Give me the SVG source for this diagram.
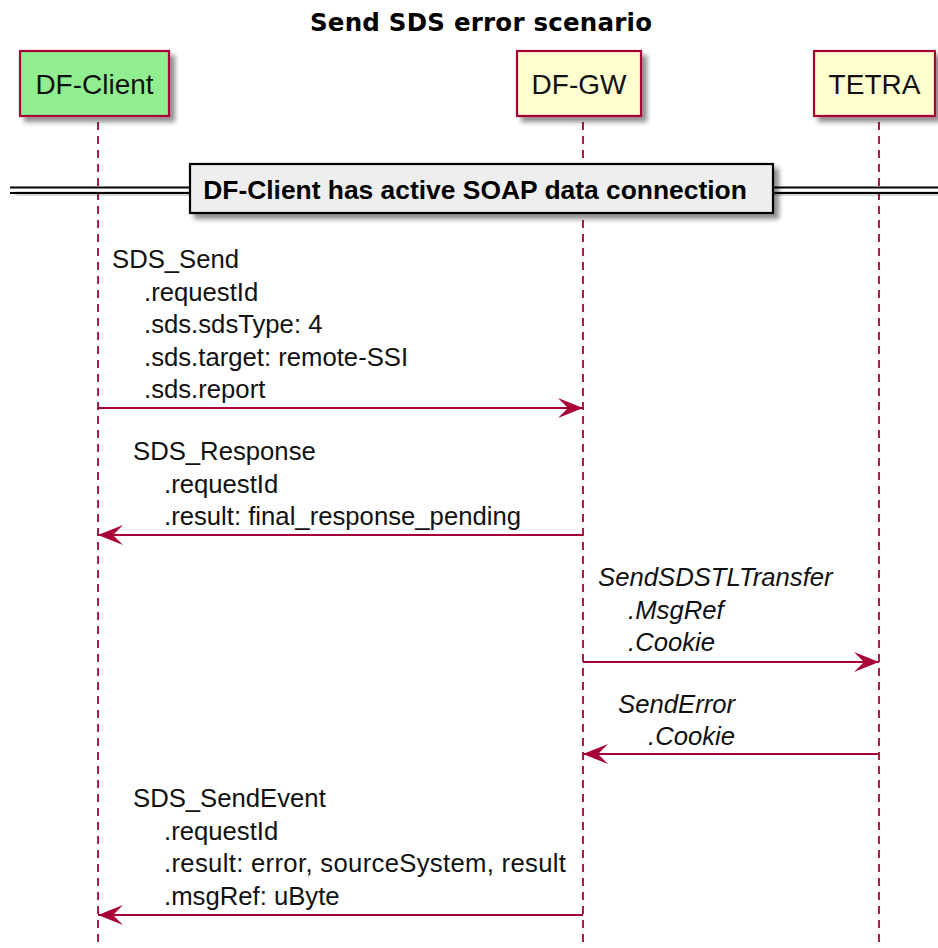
<svg xmlns="http://www.w3.org/2000/svg" width="938" height="948" viewBox="0 0 938 948">
<defs>
<filter id="sh" x="-20%" y="-20%" width="150%" height="160%">
<feGaussianBlur in="SourceAlpha" stdDeviation="2.5"/>
<feOffset dx="5" dy="5" result="b"/>
<feComponentTransfer><feFuncA type="linear" slope="0.45"/></feComponentTransfer>
<feMerge><feMergeNode/><feMergeNode in="SourceGraphic"/></feMerge>
</filter>
<marker id="ah" viewBox="0 0 25 20" refX="25" refY="10" markerWidth="25" markerHeight="20" markerUnits="userSpaceOnUse" orient="auto">
<path d="M0,0 L25,10 L0,20 L10,10 Z" fill="#A80036"/>
</marker>
</defs>
<style>
.part rect{stroke:#A80036;stroke-width:2.2}
.pt{font-family:"Liberation Sans",Arial,sans-serif;font-size:28px;fill:#111;text-anchor:middle}
.life{stroke:#A80036;stroke-width:1.8;stroke-dasharray:8,6;fill:none}
.msg{stroke:#A80036;stroke-width:2;fill:none;marker-end:url(#ah)}
.t{font-family:"Liberation Sans",Arial,sans-serif;font-size:25.7px;fill:#111}
.i{font-style:italic}
</style>
<rect width="938" height="948" fill="#fff"/>
<text x="481" y="31" font-family="'DejaVu Sans',sans-serif" font-weight="bold" font-size="24.5" text-anchor="middle" textLength="342" lengthAdjust="spacing" fill="#000">Send SDS error scenario</text>

<g id="lifelines">
<line class="life" x1="98" y1="122" x2="98" y2="948"/>
<line class="life" x1="583" y1="122" x2="583" y2="948"/>
<line class="life" x1="879" y1="122" x2="879" y2="948"/>
</g>

<g id="DF-Client" class="part">
<rect x="20" y="51" width="149" height="65" fill="#90EE90" filter="url(#sh)"/>
<text class="pt" x="94.5" y="94">DF-Client</text>
</g>
<g id="DF-GW" class="part">
<rect x="517" y="51" width="124" height="65" fill="#FEFECE" filter="url(#sh)"/>
<text class="pt" x="579" y="94">DF-GW</text>
</g>
<g id="TETRA" class="part">
<rect x="814" y="51" width="121" height="65" fill="#FEFECE" filter="url(#sh)"/>
<text class="pt" x="874.5" y="94">TETRA</text>
</g>

<g id="divider">
<g filter="url(#sh)">
<line x1="10" y1="187.5" x2="938" y2="187.5" stroke="#000" stroke-width="2"/>
<line x1="10" y1="193" x2="938" y2="193" stroke="#000" stroke-width="2"/>
</g>
<rect x="190" y="164" width="583" height="49" fill="#EEEEEE" stroke="#000" stroke-width="2.2" filter="url(#sh)"/>
<text x="475" y="199" font-family="'Liberation Sans',Arial,sans-serif" font-weight="bold" font-size="26.4" text-anchor="middle" fill="#000">DF-Client has active SOAP data connection</text>
</g>

<g id="connectors">
<line class="msg" x1="98" y1="408" x2="583" y2="408"/>
<line class="msg" x1="583" y1="535" x2="98" y2="535"/>
<line class="msg" x1="583" y1="662" x2="879" y2="662"/>
<line class="msg" x1="879" y1="754" x2="583" y2="754"/>
<line class="msg" x1="583" y1="915" x2="98" y2="915"/>
</g>

<g id="labels">
<text class="t" x="112" y="268">SDS_Send</text>
<text class="t" x="144" y="300.5">.requestId</text>
<text class="t" x="144" y="333">.sds.sdsType: 4</text>
<text class="t" x="144" y="365.5">.sds.target: remote-SSI</text>
<text class="t" x="144" y="398">.sds.report</text>

<text class="t" x="133" y="460">SDS_Response</text>
<text class="t" x="164" y="492.5">.requestId</text>
<text class="t" x="164" y="525">.result: final_response_pending</text>

<text class="t i" x="598" y="586">SendSDSTLTransfer</text>
<text class="t i" x="628" y="618.5">.MsgRef</text>
<text class="t i" x="628" y="651">.Cookie</text>

<text class="t i" x="618" y="713">SendError</text>
<text class="t i" x="648" y="745">.Cookie</text>

<text class="t" x="133" y="807">SDS_SendEvent</text>
<text class="t" x="164" y="839.5">.requestId</text>
<text class="t" x="164" y="872" textLength="402" lengthAdjust="spacing">.result: error, sourceSystem, result</text>
<text class="t" x="164" y="904.5">.msgRef: uByte</text>
</g>
</svg>
